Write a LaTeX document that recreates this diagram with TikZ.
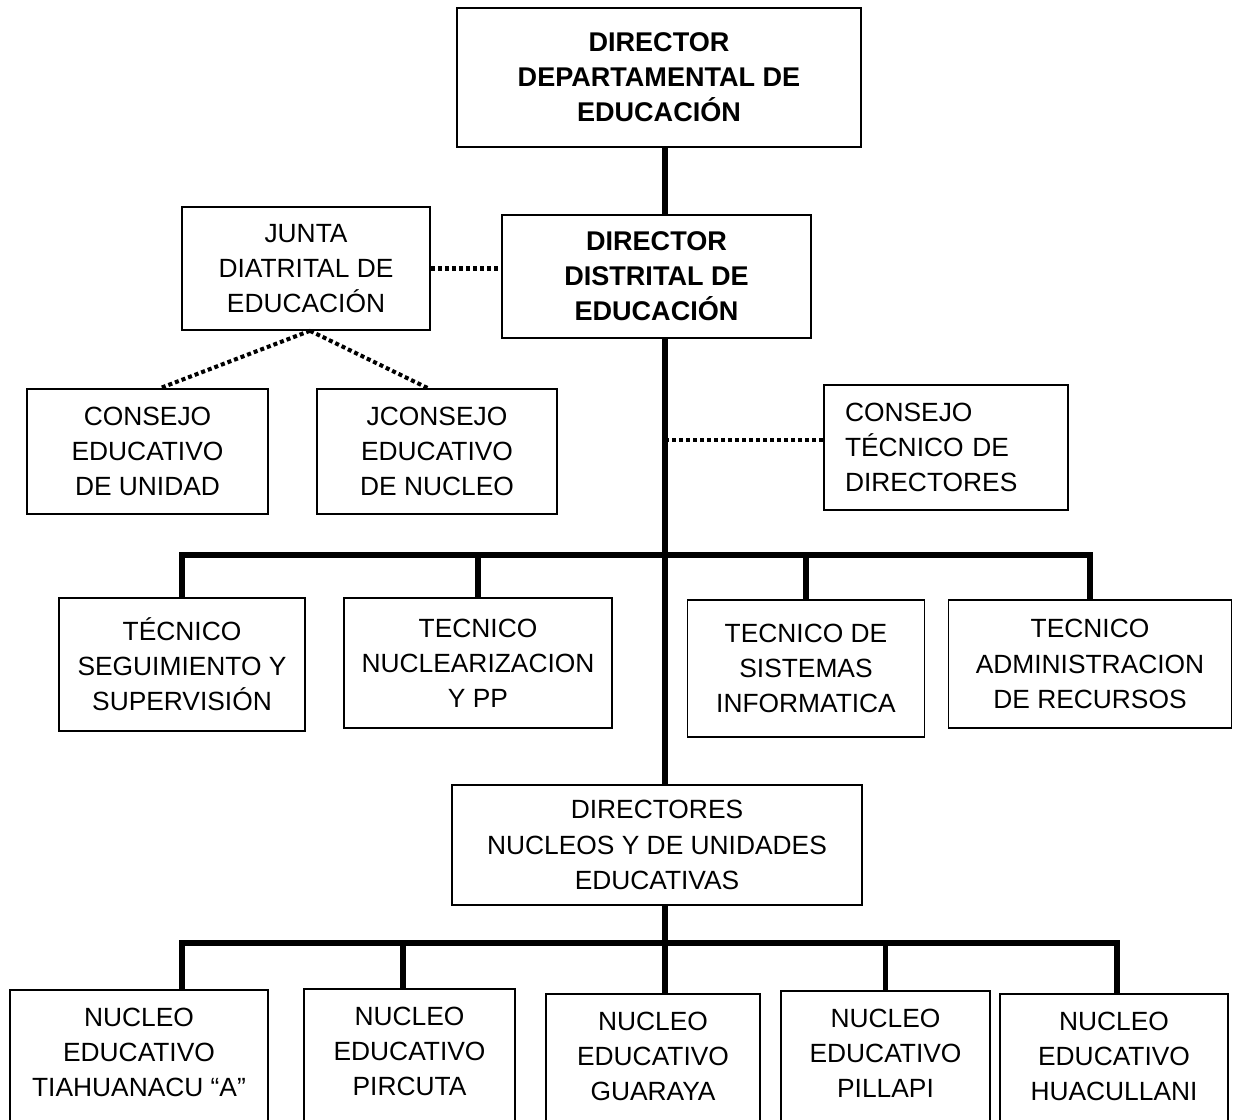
\documentclass[tikz,border=0pt]{standalone}
\usepackage{fontspec}
\setmainfont{Liberation Sans}
\begin{document}
\begin{tikzpicture}[x=0.02cm,y=-0.02cm,
  box/.style={draw,line width=0.9pt,align=center,font=\fontsize{15}{20}\selectfont},
  bbox/.style={box,font=\fontsize{15.4}{20}\selectfont\bfseries},
  nbox/.style={box,anchor=north,inner ysep=0.36cm,text depth=2cm},
  trunk/.style={line width=3.2pt},
  dots/.style={line width=2.3pt,dash pattern=on 2.3pt off 1.7pt}]
\useasboundingbox (0,0) rectangle (1233,1119);
\clip (0,0) rectangle (1233,1119);
% heads
\node[bbox,minimum width=8.08cm,minimum height=2.78cm] (dep) at (659,77.5) {DIRECTOR\\DEPARTAMENTAL DE\\EDUCACIÓN};
\node[bbox,minimum width=6.18cm,minimum height=2.46cm] (dis) at (656.5,276.5) {DIRECTOR\\DISTRITAL DE\\EDUCACIÓN};
\node[box,minimum width=4.96cm,minimum height=2.46cm] (jun) at (306,268.5) {JUNTA\\DIATRITAL DE\\EDUCACIÓN};
\node[box,minimum width=4.82cm,minimum height=2.5cm] (ceu) at (147.5,451.5) {CONSEJO\\EDUCATIVO\\DE UNIDAD};
\node[box,minimum width=4.8cm,minimum height=2.5cm] (cen) at (437,451.5) {JCONSEJO\\EDUCATIVO\\DE NUCLEO};
\node[box,align=left,text width=4.04cm,inner xsep=0.42cm,minimum height=2.5cm] (ctd) at (946,447.5) {CONSEJO\\TÉCNICO DE\\DIRECTORES};
% tecnicos
\node[box,minimum width=4.92cm,minimum height=2.66cm] (t1) at (182,664.5) {TÉCNICO\\SEGUIMIENTO Y\\SUPERVISIÓN};
\node[box,minimum width=5.36cm,minimum height=2.6cm] (t2) at (478,663) {TECNICO\\NUCLEARIZACION\\Y PP};
\node[box,minimum width=4.74cm,minimum height=2.74cm] (t3) at (806,668.5) {TECNICO DE\\SISTEMAS\\INFORMATICA};
\node[box,minimum width=5.66cm,minimum height=2.56cm] (t4) at (1090,664) {TECNICO\\ADMINISTRACION\\DE RECURSOS};
\node[box,minimum width=8.2cm,minimum height=2.4cm] (dn) at (657,845) {DIRECTORES\\NUCLEOS Y DE UNIDADES\\EDUCATIVAS};
% nucleos
\node[nbox,minimum width=5.16cm] (n1) at (139,989) {NUCLEO\\EDUCATIVO\\TIAHUANACU “A”};
\node[nbox,minimum width=4.22cm] (n2) at (409.5,988) {NUCLEO\\EDUCATIVO\\PIRCUTA};
\node[nbox,minimum width=4.28cm] (n3) at (653,993) {NUCLEO\\EDUCATIVO\\GUARAYA};
\node[nbox,minimum width=4.18cm] (n4) at (885.5,990) {NUCLEO\\EDUCATIVO\\PILLAPI};
\node[nbox,minimum width=4.56cm] (n5) at (1114,993) {NUCLEO\\EDUCATIVO\\HUACULLANI};

\coordinate (sp) at (665,0);
\coordinate (bar1) at (0,555);
\coordinate (bar2) at (0,943);
\draw[trunk] (dep.south -| sp) -- (dis.north -| sp);
\draw[trunk] (dis.south -| sp) -- (dn.north -| sp);
\draw[dots] (jun.east) -- (jun.east -| dis.west);
\draw[dots] ([xshift=0.08cm]jun.south) -- ([xshift=0.25cm]ceu.north);
\draw[dots] ([xshift=0.08cm]jun.south) -- ([xshift=-0.18cm]cen.north);
\draw[dots] ([yshift=0.15cm]ctd.west) -- ([yshift=0.15cm]ctd.west -| sp);
% barra tecnicos
\draw[trunk] (t1.north) |- (t4.north |- bar1) -- (t4.north);
\foreach \n in {t2,t3}
  \draw[trunk] (\n.north) -- (\n.north |- bar1);
% barra nucleos
\draw[trunk] (dn.south -| sp) -- (sp |- bar2);
\draw[trunk] ([xshift=0.86cm]n1.north) |- ([xshift=0.06cm]n5.north |- bar2) -- ([xshift=0.06cm]n5.north);
\draw[trunk] ([xshift=-0.13cm]n2.north) -- ([xshift=-0.13cm]n2.north |- bar2);
\draw[trunk] (n3.north -| sp) -- (sp |- bar2);
\draw[trunk] (n4.north) -- (n4.north |- bar2);
\end{tikzpicture}
\end{document}
